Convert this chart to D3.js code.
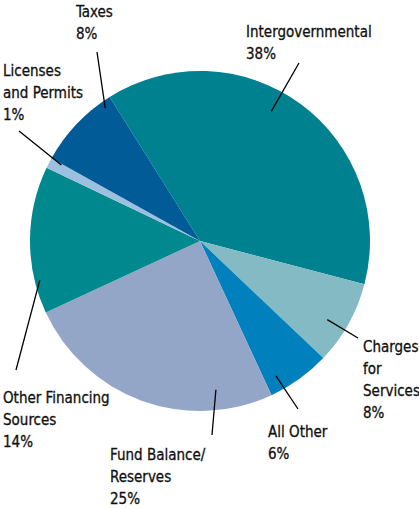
<!DOCTYPE html>
<html>
<head>
<meta charset="utf-8">
<script src="https://cdn.jsdelivr.net/npm/d3@7"></script>
<style>
  body { margin: 0; background: #fff; }
  text { font-family: "DejaVu Sans Condensed", "Liberation Sans Narrow", sans-serif; font-size: 15px; fill: #111; stroke: #111; stroke-width: 0.3px; }
</style>
</head>
<body>
<script>
"use strict";

// slices, clockwise from the Intergovernmental edge
var categories = ["Intergovernmental", "Charges for Services", "All Other", "Fund Balance/ Reserves",
                  "Other Financing Sources", "Licenses and Permits", "Taxes"];
var values = [38, 8, 6, 25, 14, 1, 8];
var colors = ["#00818f", "#84bac3", "#0080bc", "#93a6c8", "#00888f", "#9cc0e0", "#005b97"];

// label lines of text for each slice
var labelLines = [
  ["Intergovernmental", "38%"],
  ["Charges", "for", "Services", "8%"],
  ["All Other", "6%"],
  ["Fund Balance/", "Reserves", "25%"],
  ["Other Financing", "Sources", "14%"],
  ["Licenses", "and Permits", "1%"],
  ["Taxes", "8%"]
];

var width = 419, height = 509;
var cx = 200, cy = 241, radius = 170;

var svg = d3.select("body").append("svg")
  .attr("width", width)
  .attr("height", height);

var pie = d3.pie()
  .sort(null)
  .value(function(d) { return d; })
  .startAngle(-0.56)
  .endAngle(-0.56 + 2 * Math.PI);

var arcs = pie(values);

var arc = d3.arc().innerRadius(0).outerRadius(radius);

var chart = svg.append("g")
  .attr("transform", "translate(" + cx + "," + cy + ")");

chart.selectAll("path")
  .data(arcs)
  .enter().append("path")
  .attr("d", arc)
  .attr("fill", function(d, i) { return colors[i]; });

// leader start (angle in degrees clockwise from top, radius fraction), leader end, text anchor
var labelPos = [
  {a: 28.8, r0: 0.87, end: [299, 63], text: [246, 37]},
  {a: 121.7, r0: 0.88, end: [358, 338], text: [363, 352]},
  {a: 150.6, r0: 0.91, end: [298, 409], text: [268, 437]},
  {a: 173.9, r0: 0.88, end: [212, 435], text: [110, 460]},
  {a: -103.7, r0: 0.97, end: [16, 370], text: [3, 403]},
  {a: -61.3, r0: 0.93, end: [19, 131], text: [3, 76]},
  {a: -35.5, r0: 0.96, end: [97, 52], text: [76, 17]}
];

var labels = svg.append("g");

arcs.forEach(function(d, i) {
  var p = labelPos[i];
  var ang = p.a * Math.PI / 180;
  var x0 = cx + Math.sin(ang) * radius * p.r0;
  var y0 = cy - Math.cos(ang) * radius * p.r0;
  labels.append("line")
    .attr("x1", x0).attr("y1", y0)
    .attr("x2", p.end[0]).attr("y2", p.end[1])
    .attr("stroke", "#000")
    .attr("stroke-width", 1.3);

  var t = labels.append("text")
    .attr("x", p.text[0])
    .attr("y", p.text[1]);
  labelLines[i].forEach(function(line, j) {
    t.append("tspan")
      .attr("x", p.text[0])
      .attr("dy", j === 0 ? 0 : 22)
      .text(line);
  });
});
</script>
</body>
</html>
